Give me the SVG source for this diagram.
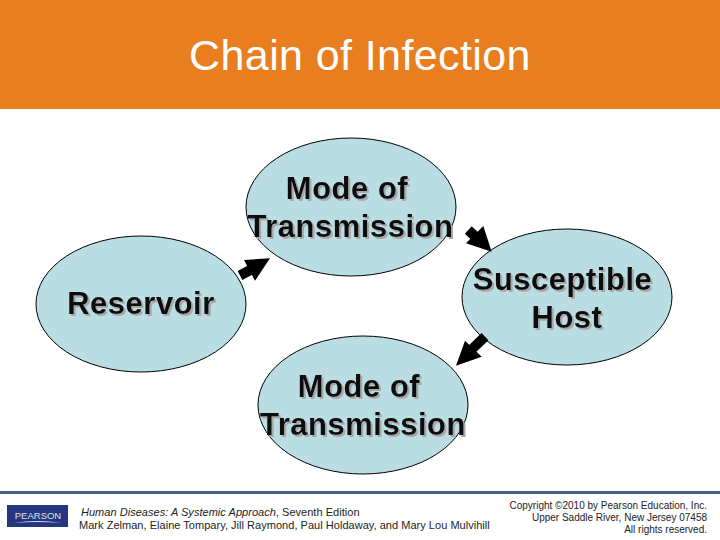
<svg xmlns="http://www.w3.org/2000/svg" width="720" height="540" viewBox="0 0 720 540">
<defs><filter id="sh" x="-5%" y="-10%" width="110%" height="125%"><feDropShadow dx="2" dy="2" stdDeviation="0.5" flood-color="#a8a8a8"/></filter></defs>
<style>
text{font-family:"Liberation Sans",Arial,sans-serif;fill:#000}
.n ellipse{fill:#b9dde3;stroke:#000;stroke-width:1}
.l{font-size:31px;font-weight:700;text-anchor:middle;letter-spacing:.5px;fill:#0a0a0a;filter:url(#sh)}
.c line{stroke:#000;stroke-width:10}
.c polygon{fill:#000}
.f{font-size:11px;letter-spacing:.03px;fill:#222}
.r{font-size:10px;text-anchor:end;fill:#222}
</style>
<rect width="720" height="109" fill="#e97e20"/>
<text x="360" y="69.500" font-size="43" letter-spacing=".4" text-anchor="middle" style="fill:#fff">Chain of Infection</text>
<g id="node-top" class="n"><ellipse cx="351" cy="207" rx="105" ry="69"/><text class="l" x="347" y="199">Mode of</text><text class="l" x="350.500" y="237">Transmission</text></g>
<g id="node-reservoir" class="n"><ellipse cx="141" cy="304" rx="105" ry="68"/><text class="l" x="141" y="314">Reservoir</text></g>
<g id="node-host" class="n"><ellipse cx="567" cy="297" rx="105" ry="68"/><text class="l" x="562.500" y="290">Susceptible</text><text class="l" x="567" y="328">Host</text></g>
<g id="node-bottom" class="n"><ellipse cx="363" cy="405" rx="105" ry="69"/><text class="l" x="359" y="397">Mode of</text><text class="l" x="363" y="435">Transmission</text></g>
<g id="connectors" class="c">
<line x1="240" y1="275.500" x2="256" y2="267"/><polygon points="270,258.300 244,260 255,280.700"/>
<line x1="468.300" y1="230" x2="480" y2="241"/><polygon points="491.700,251.700 483.300,226 466,243.300"/>
<line x1="485" y1="336.700" x2="470" y2="351"/><polygon points="456,365.700 465,340.700 481.700,356.700"/>
</g>
<rect y="491" width="720" height="3" fill="#3f6287"/>
<rect x="7" y="505" width="61" height="22" fill="#23367f"/>
<text x="38" y="518.500" font-size="9.500" text-anchor="middle" style="fill:#dfe4f0">PEARSON</text>
<path d="M14 523Q37 519 61 523Q37 521 14 523Z" fill="#dfe4f0"/>
<text class="f" x="81" y="515.500"><tspan font-style="italic">Human Diseases: A Systemic Approach</tspan>, Seventh Edition</text>
<text class="f" x="79" y="528.500">Mark Zelman, Elaine Tompary, Jill Raymond, Paul Holdaway, and Mary Lou Mulvihill</text>
<text class="r" x="707" y="508.500">Copyright ©2010 by Pearson Education, Inc.</text>
<text class="r" x="707" y="520.500">Upper Saddle River, New Jersey 07458</text>
<text class="r" x="707" y="532.500">All rights reserved.</text>
</svg>
